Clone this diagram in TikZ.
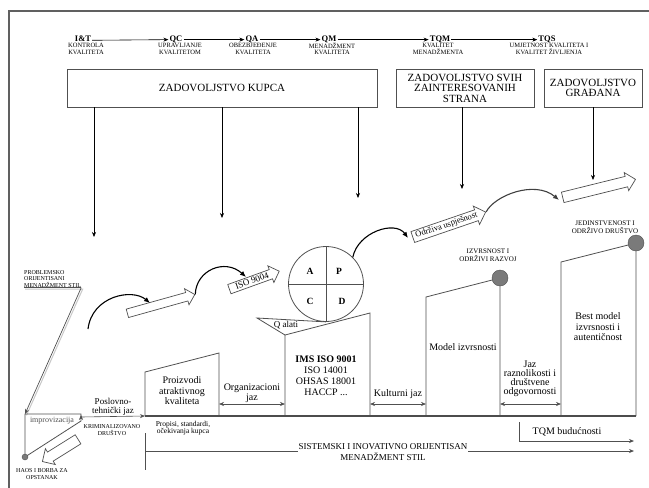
\documentclass[tikz,border=0pt]{standalone}
\usepackage{fontspec}
\setmainfont{Liberation Serif}
\usetikzlibrary{arrows.meta,shapes.arrows,calc}
\definecolor{linegray}{HTML}{505050}
\definecolor{framegray}{HTML}{606060}
\definecolor{dotgray}{HTML}{7A7A7A}
\definecolor{shadowgray}{HTML}{C8C8C8}
\begin{document}
\begin{tikzpicture}[x=1pt,y=-1pt,
  era/.style={font=\bfseries\fontsize{8.5}{8.5}\selectfont, inner sep=1pt},
  erasub/.style={font=\fontsize{6.5}{6.5}\selectfont, align=center, inner sep=0pt},
  goalbox/.style={draw=linegray, line width=0.8pt, align=center, inner sep=0pt,
    minimum height=38pt, font=\fontsize{11}{10.5}\selectfont},
  drop/.style={-{Stealth[length=5pt,width=4pt]}, line width=0.6pt},
  hop/.style={line width=1.1pt, -{Latex[length=6pt,width=5pt]}},
  blockarrow/.style={single arrow, draw=linegray, fill=white, line width=0.7pt,
    single arrow head extend=4pt, inner xsep=1pt, inner ysep=1.5pt,
    font=\fontsize{9}{9}\selectfont},
  stage/.style={draw=linegray, line width=0.8pt},
  stagetext/.style={font=\fontsize{10}{10.5}\selectfont, align=center, inner sep=0pt},
  gap/.style={{Stealth[length=5pt,width=4pt]}-{Stealth[length=5pt,width=4pt]},
    line width=0.6pt, draw=linegray},
  tinylabel/.style={font=\fontsize{6}{6.5}\selectfont, align=center, inner sep=0pt},
  milestone/.style={circle, draw=linegray, fill=dotgray, minimum size=16pt, inner sep=0pt},
]
\useasboundingbox (0,0) rectangle (649,488);
\begin{scope}
  \clip (0,0) rectangle (649,488);
  \draw[framegray, line width=1.3pt] (9,11) rectangle (700,540);
\end{scope}

% ---- evolution of the quality concept
\node[era] (it)  at (83,39)  {I\&T};
\node[era] (qc)  at (176,39) {QC};
\node[era] (qa)  at (252,39) {QA};
\node[era] (qm)  at (329,39) {QM};
\node[era] (tqm) at (440,39) {TQM};
\node[era] (tqs) at (547,39) {TQS};
\foreach \a/\b in {it/qc,qc/qa,qa/qm,qm/tqm,tqm/tqs}
  \draw[drop] ([yshift=1.5pt]\a.base east) -- ([yshift=1.5pt]\b.base west);

\node[erasub] (itsub)  at (86,49)  {KONTROLA\\KVALITETA};
\node[erasub] (qcsub)  at (180,49) {UPRAVLJANJE\\KVALITETOM};
\node[erasub] (qasub)  at (253,49) {OBEZBJEĐENJE\\KVALITETA};
\node[erasub] (qmsub)  at (332,49) {MENADŽMENT\\KVALITETA};
\node[erasub] (tqmsub) at (438,49) {KVALITET\\MENADŽMENTA};
\node[erasub] (tqssub) at (549,49) {UMJETNOST KVALITETA I\\KVALITET ŽIVLJENJA};

% ---- satisfaction goals
\node[goalbox, minimum width=310pt] (kupca) at (222,88) {ZADOVOLJSTVO KUPCA};
\node[goalbox, minimum width=138pt] (svih)  at (465,88) {ZADOVOLJSTVO SVIH\\ZAINTERESOVANIH\\STRANA};
\node[goalbox, minimum width=98pt]  (gradj) at (593,88) {ZADOVOLJSTVO\\GRAĐANA};

\coordinate (d1) at (94,237);
\coordinate (d2) at (222,218);
\coordinate (d3) at (358,198);
\coordinate (d4) at (462,189);
\coordinate (d5) at (593,180);
\draw[drop] (kupca.south -| d1) -- (d1);
\draw[drop] (kupca.south -| d2) -- (d2);
\draw[drop] (kupca.south -| d3) -- (d3);
\draw[drop] (svih.south -| d4)  -- (d4);
\draw[drop] (gradj.south -| d5) -- (d5);

% ---- block arrows of progress
\node[blockarrow, minimum height=70pt, inner ysep=4pt, rotate=15.6] (push1) at (159,304.5) {};
\node[blockarrow, minimum height=53pt, rotate=19.8] (iso) at (252,281) {ISO 9004};
\node[blockarrow, minimum height=77pt, inner xsep=0pt, rotate=18.9,
      font=\fontsize{8.5}{8.5}\selectfont] (odr) at (446.5,225.5) {Održiva uspješnost};
\node[blockarrow, minimum height=75pt, inner ysep=5pt, rotate=13.9] (push2) at (596.5,189) {};
\node[blockarrow, minimum height=42pt, inner ysep=5pt, rotate=212] (fall) at (62.5,449) {};

% ---- PDCA circle
\node[circle, draw=linegray, line width=0.8pt, minimum size=75pt, inner sep=0pt] (pdca) at (326,284) {};
\draw[linegray, line width=0.8pt] (pdca.north) -- (pdca.south) (pdca.west) -- (pdca.east);
\node[font=\bfseries\fontsize{9.5}{9.5}\selectfont] (pa) at (310,271) {A};
\node[font=\bfseries\fontsize{9.5}{9.5}\selectfont] (pp) at (339,271) {P};
\node[font=\bfseries\fontsize{9.5}{9.5}\selectfont] (pc) at (310,301) {C};
\node[font=\bfseries\fontsize{9.5}{9.5}\selectfont] (pd) at (342,301) {D};

% ---- curved jumps
\coordinate (h1s) at (88,329);
\coordinate (h1e) at (150,303);
\coordinate (h2e) at (246,277);
\coordinate (h3e) at (408,238);
\coordinate (h4e) at (559,200);
\draw[hop] (h1s) .. controls (92,296) and (132,288) .. (h1e);
\draw[hop] (push1.tip) .. controls (196,270) and (225,258) .. (h2e);
\draw[hop] (pdca.45) .. controls (358,232) and (395,220) .. (h3e);
\draw[hop, draw=black!75] (odr.tip) .. controls (495,195) and (535,180) .. (h4e);

% ---- stages standing on the base line
\coordinate (pr1) at (145,416); \coordinate (pr2) at (145,372);
\coordinate (pr3) at (219,353); \coordinate (pr4) at (219,416);
\coordinate (ims1) at (285,416); \coordinate (ims2) at (285,335);
\coordinate (ims3) at (370,313); \coordinate (ims4) at (370,416);
\coordinate (mo1) at (426,416); \coordinate (mo2) at (426,297);
\coordinate (mo3) at (500,278); \coordinate (mo4) at (500,416);
\coordinate (be1) at (561,416); \coordinate (be2) at (561,262);
\coordinate (be3) at (636,243); \coordinate (be4) at (636,416);

\draw[stage] (pr1) -- (pr2) -- (pr3) -- (pr4);
\draw[stage] (ims1) -- (ims2) -- (ims3) -- (ims4);
\draw[stage] (mo1) -- (mo2) -- (mo3) -- (mo4);
\draw[stage] (be1) -- (be2) -- (be3) -- (be4);
\draw[draw=black!70, line width=1.6pt] (pr1) -- (be4);

% Q tools wedge under the PDCA circle
\coordinate (qt) at (257,318);
\draw[stage] (ims2) -- (qt) -- (pdca.south);
\node[font=\fontsize{9}{9}\selectfont, inner sep=0pt] (qal) at (286,325) {Q alati};

\node[milestone] (ms1) at (mo3) {};
\node[milestone] (ms2) at (be3) {};

\node[stagetext] (prt)  at (182,391) {Proizvodi\\atraktivnog\\kvaliteta};
\node[stagetext, font=\fontsize{10}{11}\selectfont] (imst) at (326,376)
  {\textbf{IMS ISO 9001}\\ISO 14001\\OHSAS 18001\\HACCP ...};
\node[stagetext] (mot)  at (463,347) {Model izvrsnosti};
\node[stagetext] (bet)  at (598,327) {Best model\\izvrsnosti i\\autentičnost};

\node[tinylabel, font=\fontsize{7}{8}\selectfont] (izv) at (488,255) {IZVRSNOST I\\ODRŽIVI RAZVOJ};
\node[tinylabel, font=\fontsize{7}{8}\selectfont] (jed) at (605,227) {JEDINSTVENOST I\\ODRŽIVO DRUŠTVO};

% ---- gaps between the stages
\draw[gap] ($(pr4)+(0,-12)$) -- ($(ims1)+(0,-12)$);
\draw[gap] ($(ims4)+(0,-12)$) -- ($(mo1)+(0,-12)$);
\draw[gap] ($(mo4)+(0,-12)$) -- ($(be1)+(0,-12)$);
\node[stagetext] (orgt) at (252,393) {Organizacioni\\jaz};
\node[stagetext] (kult) at (398,394) {Kulturni jaz};
\node[stagetext, font=\fontsize{10}{9}\selectfont] (razt) at (530,379)
  {Jaz\\raznolikosti i\\društvene\\odgovornosti};

% ---- problem-oriented start
\node[tinylabel, align=left, anchor=west] (prob) at (24,279)
  {PROBLEMSKO\\ORIJENTISANI\\MENADŽMENT STIL};
\coordinate (imp1) at (25,414);
\coordinate (imp2) at (81,414);
\coordinate (imp3) at (81,421);
\coordinate (imp4) at (25,457);
\draw[shadowgray, line width=1pt] ([shift={(1,1.3)}]prob.south west) -- ([shift={(1.5,1.3)}]prob.south east)
  -- ([shift={(1.5,1.3)}]imp1);
\draw[linegray, line width=0.7pt] (prob.south west) -- (prob.south east);
\draw[drop, draw=linegray, line width=0.7pt] (prob.south east) -- (imp1);

\draw[linegray, line width=0.8pt] (imp1) -- (imp2) -- (imp3) -- (imp4) -- cycle;
\node[font=\fontsize{8}{8}\selectfont, text=linegray, inner sep=0pt] (impt) at (52,421) {improvizacija};
\node[circle, fill=dotgray, draw=linegray, minimum size=6pt, inner sep=0pt] (haos) at (imp4) {};
\node[tinylabel, font=\fontsize{6}{7.5}\selectfont] (haost) at (42,474) {HAOS I BORBA ZA\\OPSTANAK};
\node[tinylabel] (krim) at (112,430) {KRIMINALIZOVANO\\DRUŠTVO};

\draw[gap] ([yshift=-1pt]imp2) -- ([yshift=-1pt]pr1 -| imp2) -- (pr1);
\node[font=\fontsize{9}{8.5}\selectfont, align=center, inner sep=0pt] (posl) at (113,407)
  {Poslovno-\\tehnički jaz};

\node[font=\fontsize{7.5}{7}\selectfont, align=center, inner sep=0pt] (prop) at (183,428)
  {Propisi, standardi,\\očekivanja kupca};

% ---- future and management style
\coordinate (tq0) at (519,422);
\coordinate (tq1) at (634,441);
\draw[drop, line width=0.7pt, draw=linegray] (tq0) |- (tq1);
\node[stagetext] (tqmb) at (567,432) {TQM budućnosti};

\coordinate (sb0) at (145,433);
\coordinate (sb1) at (145,470);
\coordinate (s0) at (145,451);
\coordinate (s1) at (634,451);
\draw[linegray, line width=1pt] (sb0) -- (sb1);
\draw[drop, line width=0.7pt, draw=linegray] (s0) -- (s1);
\node[fill=white, font=\fontsize{9}{11}\selectfont, align=center, inner sep=1pt] (sist) at (383,452)
  {SISTEMSKI I INOVATIVNO ORIJENTISAN\\MENADŽMENT STIL};
\end{tikzpicture}
\end{document}
